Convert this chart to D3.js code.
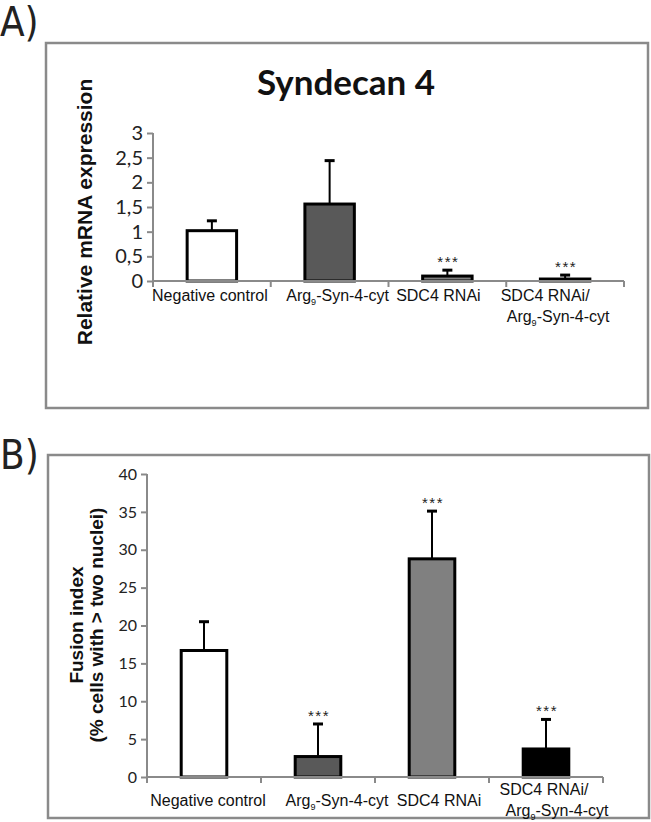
<!DOCTYPE html>
<html><head><meta charset="utf-8">
<script src="https://cdn.jsdelivr.net/npm/d3@7"></script>
<style>body{margin:0;background:#fff}svg{display:block}</style>
</head><body>
<svg id="c" width="651" height="822"></svg>
<script>
const categories = ["Negative control", "Arg9-Syn-4-cyt", "SDC4 RNAi", "SDC4 RNAi/Arg9-Syn-4-cyt"];
const barColors = ["#ffffff", "#595959", "#808080", "#000000"];

const mrnaValues = [1.02, 1.56, 0.10, 0.04];
const mrnaErrors = [0.20, 0.88, 0.12, 0.08];
const mrnaStars  = [false, false, true, true];
const mrnaTicks  = [0, 0.5, 1, 1.5, 2, 2.5, 3];
const mrnaTickLabels = ["0", "0,5", "1", "1,5", "2", "2,5", "3"];

const fusionValues = [16.7, 2.7, 28.8, 3.7];
const fusionErrors = [3.8, 4.3, 6.3, 3.9];
const fusionStars  = [false, true, true, true];
const fusionTicks  = [0, 5, 10, 15, 20, 25, 30, 35, 40];
const fusionTickLabels = ["0", "5", "10", "15", "20", "25", "30", "35", "40"];

const svg = d3.select("#c");
const gray = "#8a8a8a";

function panel(opt) {
  const g = svg.append("g");
  g.append("rect").attr("x", opt.frame[0]).attr("y", opt.frame[1])
    .attr("width", opt.frame[2]).attr("height", opt.frame[3])
    .attr("fill", "none").attr("stroke", gray).attr("stroke-width", 2.5);
  g.append("text").attr("x", 0).attr("y", opt.letterY)
    .attr("font-family", "'Liberation Sans Narrow','DejaVu Sans Condensed',sans-serif")
    .attr("font-size", 40).attr("fill", "#222").text(opt.letter);

  const x = d3.scaleBand().domain(categories).range([opt.x0, opt.x1]).padding(0);
  const y = d3.scaleLinear().domain([opt.ticks[0], opt.ticks[opt.ticks.length - 1]]).range([opt.y0, opt.y1]);

  const ya = g.append("g").attr("transform", `translate(${opt.x0},0)`)
    .call(d3.axisLeft(y).tickValues(opt.ticks).tickSize(6).tickPadding(4)
      .tickFormat((d, i) => opt.tickLabels[i]));
  ya.select(".domain").attr("stroke", gray).attr("stroke-width", 2).attr("d", `M-0,${opt.y1}V${opt.y0}`);
  ya.selectAll(".tick line").attr("stroke", gray).attr("stroke-width", 2);
  ya.selectAll(".tick text").attr("font-family", "Lato, 'Open Sans', sans-serif")
    .attr("font-size", opt.tickFont).attr("fill", "#222");

  const bw = x.bandwidth() * opt.barFrac;
  const cx = d => x(d) + x.bandwidth() / 2;
  g.selectAll("rect.bar").data(categories).join("rect").attr("class", "bar")
    .attr("x", d => cx(d) - bw / 2)
    .attr("y", (d, i) => y(opt.values[i]))
    .attr("width", bw)
    .attr("height", (d, i) => y(0) - y(opt.values[i]))
    .attr("fill", (d, i) => barColors[i]).attr("stroke", "#000").attr("stroke-width", 3);

  g.selectAll("line.err").data(categories).join("line").attr("class", "err")
    .attr("x1", cx).attr("x2", cx)
    .attr("y1", (d, i) => y(opt.values[i]))
    .attr("y2", (d, i) => y(opt.values[i] + opt.errors[i]))
    .attr("stroke", "#000").attr("stroke-width", 2);
  g.selectAll("line.cap").data(categories).join("line").attr("class", "cap")
    .attr("x1", d => cx(d) - 5).attr("x2", d => cx(d) + 5)
    .attr("y1", (d, i) => y(opt.values[i] + opt.errors[i]))
    .attr("y2", (d, i) => y(opt.values[i] + opt.errors[i]))
    .attr("stroke", "#000").attr("stroke-width", 3);

  g.selectAll("text.star").data(categories.filter((d, i) => opt.stars[i])).join("text")
    .attr("class", "star")
    .attr("x", d => cx(d) + 1)
    .attr("y", d => { const i = categories.indexOf(d); return y(opt.values[i] + opt.errors[i]) - 3; })
    .attr("text-anchor", "middle").attr("font-family", "'Liberation Sans',Arial,sans-serif")
    .attr("font-size", 15).attr("letter-spacing", 1.5).attr("fill", "#222").text("***");

  g.append("line").attr("x1", opt.x0).attr("x2", opt.x1).attr("y1", y(0)).attr("y2", y(0))
    .attr("stroke", gray).attr("stroke-width", 2);
  const bounds = categories.map(d => x(d)).concat([opt.x1]);
  g.selectAll("line.xt").data(bounds).join("line").attr("class", "xt")
    .attr("x1", d => d).attr("x2", d => d).attr("y1", y(0)).attr("y2", y(0) + 6)
    .attr("stroke", gray).attr("stroke-width", 2);

  const lab = g.append("g").attr("font-family", "'Liberation Sans',Arial,sans-serif")
    .attr("font-size", 16).attr("fill", "#111").attr("text-anchor", "middle");
  function argLabel(xx, yy) {
    const tt = lab.append("text").attr("x", xx).attr("y", yy);
    tt.append("tspan").text("Arg");
    tt.append("tspan").attr("font-size", 9).attr("dy", 4).text("9");
    tt.append("tspan").attr("dy", -4).text("-Syn-4-cyt");
  }
  categories.forEach((c, i) => {
    const xc = cx(c);
    if (c.startsWith("Arg9")) argLabel(xc + opt.labShift[i], opt.labY);
    else if (c.includes("/")) {
      lab.append("text").attr("x", xc + opt.labShift[i]).attr("y", opt.labY - opt.lab2dy).text(c.split("/")[0] + "/");
      argLabel(xc + opt.labShift[i] + 13, opt.labY - opt.lab2dy + 21);
    } else lab.append("text").attr("x", xc + opt.labShift[i]).attr("y", opt.labY).text(c);
  });

  const yt = g.append("text").attr("transform", `translate(${opt.ytX},${opt.ytY}) rotate(-90)`)
    .attr("text-anchor", "middle").attr("font-family", "'Liberation Sans',Arial,sans-serif")
    .attr("font-weight", "bold").attr("font-size", opt.ytFont).attr("fill", "#111");
  opt.ytLines.forEach((l, i) => yt.append("tspan").attr("x", 0).attr("dy", i === 0 ? 0 : opt.ytFont * 1.05).text(l));

  if (opt.title) {
    g.append("text").attr("x", opt.title.x).attr("y", opt.title.y).attr("text-anchor", "middle")
      .attr("font-family", "Lato, 'Open Sans', sans-serif").attr("font-weight", "bold")
      .attr("font-size", 35).attr("fill", "#111").text(opt.title.text);
  }
}

panel({
  frame: [46, 43, 602, 365], letter: "A)", letterY: 36,
  x0: 153, x1: 624, y0: 281, y1: 133,
  ticks: mrnaTicks, tickLabels: mrnaTickLabels, tickFont: 20,
  values: mrnaValues, errors: mrnaErrors, stars: mrnaStars, barFrac: 0.42,
  labY: 301, lab2dy: 0, labShift: [-2, 8, -9, -20],
  ytX: 92, ytY: 212, ytFont: 21, ytLines: ["Relative mRNA expression"],
  title: { text: "Syndecan 4", x: 346, y: 95 }
});

panel({
  frame: [48, 455, 601, 363], letter: "B)", letterY: 469,
  x0: 147, x1: 603, y0: 777, y1: 474,
  ticks: fusionTicks, tickLabels: fusionTickLabels, tickFont: 16,
  values: fusionValues, errors: fusionErrors, stars: fusionStars, barFrac: 0.40,
  labY: 806, lab2dy: 11, labShift: [4, 19, 7, -2],
  ytX: 83, ytY: 625, ytFont: 19, ytLines: ["Fusion index", "(% cells with > two nuclei)"],
  title: null
});
</script>
</body></html>
